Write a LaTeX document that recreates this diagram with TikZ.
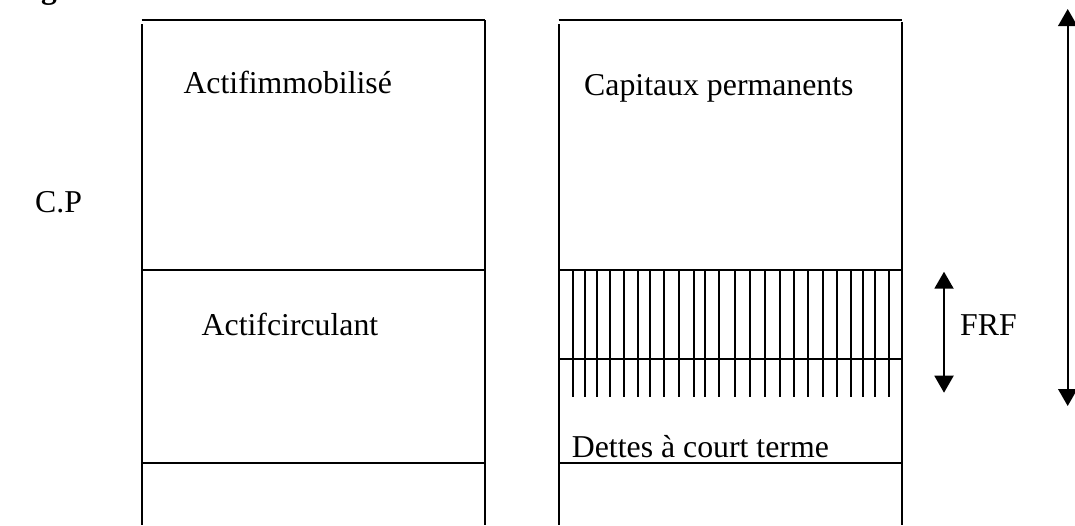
\documentclass[tikz,border=0pt]{standalone}
\usepackage{fontspec}
\setmainfont{Liberation Serif}
\usetikzlibrary{arrows.meta}
\begin{document}
\begin{tikzpicture}[x=1pt,y=-1pt,
  ln/.style={line width=2pt},
  hatch/.style={line width=1.9pt},
  lbl/.style={inner sep=0pt,anchor=base west,font=\fontsize{31.8}{36}\selectfont},
  dbl/.style={line width=2pt,{Triangle[width=19pt,length=17pt]}-{Triangle[width=19pt,length=17pt]}}]
\useasboundingbox (0,0) rectangle (1075,525);
\clip (0,0) rectangle (1075,525);
% cut-off title fragment
\node[inner sep=0pt,anchor=base west,font=\fontsize{31.5}{36}\selectfont\bfseries] (title) at (41,-1.5) {g};
% left box
\draw[ln] (141.7,20) -- (484.5,20);
\draw[ln] (141.7,24) -- (141.7,525);
\draw[ln] (484.5,20) -- (484.5,525);
\draw[ln] (141.7,270) -- (484.5,270);
\draw[ln] (141.7,463) -- (484.5,463);
% right box
\draw[ln] (558.7,20) -- (901.5,20);
\draw[ln] (558.7,24) -- (558.7,525);
\draw[ln] (901.5,22) -- (901.5,525);
\draw[ln] (558.7,270) -- (901.5,270);
\draw[ln] (558.7,359) -- (901.5,359);
\draw[ln] (558.7,463) -- (901.5,463);
% hatching
\foreach \x in {572.7,585.3,597.3,609.7,623.7,638,650,664.3,678.7,694.3,704.7,719,735,749.7,765.3,779.7,794,808.3,822.7,836.7,850.7,863,875.3,889.3}
  \draw[hatch] (\x,270) -- (\x,397);
% labels
\node[lbl] (ai) at (183.3,93.3) {Actifimmobilisé};
\node[lbl] (cp) at (584,95) {Capitaux permanents};
\node[lbl] (cpl) at (35,212) {C.P};
\node[lbl] (ac) at (201.5,335) {Actifcirculant};
\node[lbl] (frf) at (960,335) {FRF};
\node[lbl] (dct) at (571.7,457.3) {Dettes à court terme};
% arrows
\coordinate (frft) at (944,271.7);
\coordinate (frfb) at (944,392.7);
\draw[dbl] (frft) -- (frfb);
\coordinate (bigt) at (1067.7,9);
\coordinate (bigb) at (1067.7,406);
\draw[dbl] (bigt) -- (bigb);
\end{tikzpicture}
\end{document}
